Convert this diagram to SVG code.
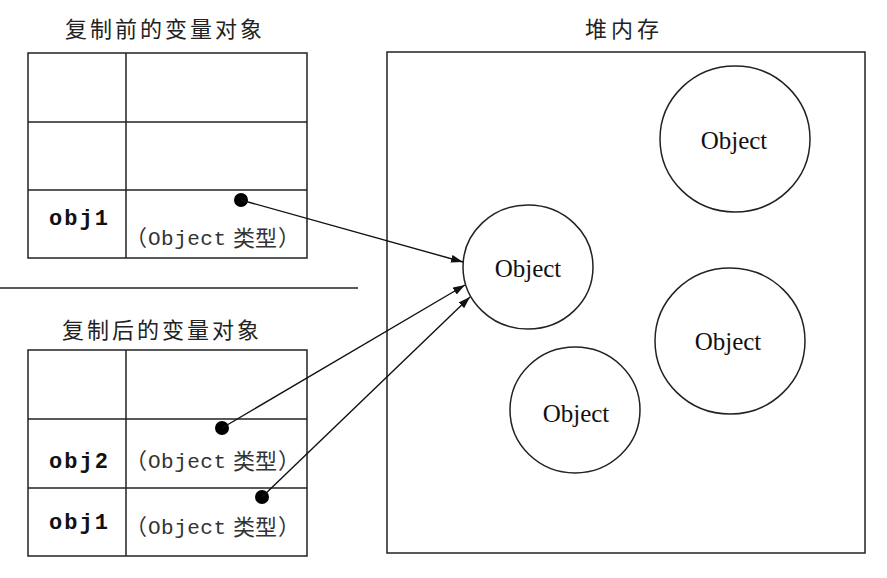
<svg xmlns="http://www.w3.org/2000/svg" width="887" height="578" viewBox="0 0 887 578">
<defs>
<marker id="arr" viewBox="0 0 12 8" refX="12" refY="4" markerWidth="12" markerHeight="8" markerUnits="userSpaceOnUse" orient="auto">
<path d="M0,0 L12,4 L0,8 Z" fill="#111"/>
</marker>
</defs>
<style>
.ln{stroke:#222;stroke-width:1.5;fill:none}
.title{font-family:"Noto Sans CJK SC","Noto Sans",sans-serif;font-size:22px;fill:#222;letter-spacing:3px}
.var{font-family:"Liberation Mono",monospace;font-weight:bold;font-size:22px;fill:#111}
.mono{font-family:"Liberation Mono",monospace;font-size:21px;fill:#333}
.cjk{font-family:"Noto Sans CJK SC",sans-serif;font-size:22px;fill:#333}
.obj{font-family:"Liberation Serif",serif;font-size:25px;fill:#111;text-anchor:middle}
.dot{fill:#000}
.con{stroke:#111;stroke-width:1.4;fill:none}
</style>
<rect width="887" height="578" fill="#fff"/>

<g id="before-table">
<text class="title" x="65" y="37">复制前的变量对象</text>
<rect class="ln" x="28" y="53" width="279" height="205"/>
<line class="ln" x1="126" y1="53" x2="126" y2="258"/>
<line class="ln" x1="28" y1="122" x2="307" y2="122"/>
<line class="ln" x1="28" y1="190" x2="307" y2="190"/>
<text class="var" x="49" y="225" textLength="59" lengthAdjust="spacing">obj1</text>
<text class="cjk" x="125" y="245">（</text>
<text class="mono" x="148" y="245" textLength="78" lengthAdjust="spacing">Object</text>
<text class="cjk" x="233" y="246">类型</text>
<text class="cjk" x="278" y="245">）</text>
<circle class="dot" cx="241" cy="200" r="7"/>
</g>

<line id="separator" class="ln" x1="0" y1="288" x2="358" y2="288"/>

<g id="after-table">
<text class="title" x="62" y="338">复制后的变量对象</text>
<rect class="ln" x="28" y="350" width="279" height="206"/>
<line class="ln" x1="126" y1="350" x2="126" y2="556"/>
<line class="ln" x1="28" y1="419" x2="307" y2="419"/>
<line class="ln" x1="28" y1="488" x2="307" y2="488"/>
<text class="var" x="49" y="468" textLength="59" lengthAdjust="spacing">obj2</text>
<text class="cjk" x="125" y="468">（</text>
<text class="mono" x="148" y="468" textLength="78" lengthAdjust="spacing">Object</text>
<text class="cjk" x="233" y="469">类型</text>
<text class="cjk" x="278" y="468">）</text>
<circle class="dot" cx="222" cy="428" r="7"/>
<text class="var" x="49" y="529" textLength="59" lengthAdjust="spacing">obj1</text>
<text class="cjk" x="125" y="534">（</text>
<text class="mono" x="148" y="534" textLength="78" lengthAdjust="spacing">Object</text>
<text class="cjk" x="233" y="535">类型</text>
<text class="cjk" x="278" y="534">）</text>
<circle class="dot" cx="262" cy="497" r="7"/>
</g>

<g id="heap">
<text class="title" x="585" y="37" style="letter-spacing:4px">堆内存</text>
<rect class="ln" x="387" y="52" width="478" height="501"/>
</g>

<g id="obj-a">
<ellipse class="ln" cx="528" cy="267" rx="65" ry="62"/>
<text class="obj" x="528" y="277">Object</text>
</g>
<g id="obj-b">
<ellipse class="ln" cx="735" cy="139" rx="75" ry="73"/>
<text class="obj" x="734" y="149">Object</text>
</g>
<g id="obj-c">
<ellipse class="ln" cx="730" cy="341" rx="75" ry="73"/>
<text class="obj" x="728" y="350">Object</text>
</g>
<g id="obj-d">
<ellipse class="ln" cx="575" cy="410" rx="65" ry="63"/>
<text class="obj" x="576" y="422">Object</text>
</g>

<g id="connectors">
<line class="con" x1="241" y1="200" x2="463" y2="262" marker-end="url(#arr)"/>
<line class="con" x1="222" y1="428" x2="465" y2="285" marker-end="url(#arr)"/>
<line class="con" x1="262" y1="497" x2="470" y2="297" marker-end="url(#arr)"/>
</g>
</svg>
